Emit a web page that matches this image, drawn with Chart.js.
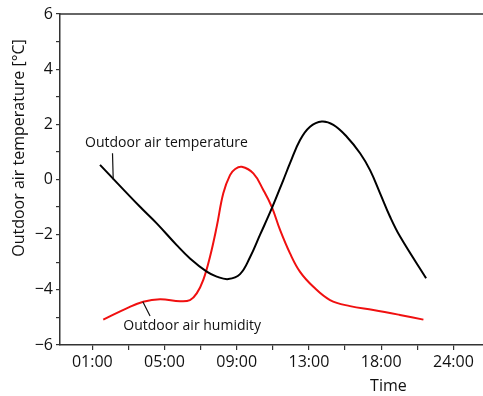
<!DOCTYPE html>
<html><head><meta charset="utf-8">
<script src="https://cdn.jsdelivr.net/npm/chart.js@4/dist/chart.umd.min.js"></script>
<style>html,body{margin:0;padding:0;background:#fff}#wrap{width:483px;height:396px}</style>
</head><body><div id="wrap"><canvas id="c" width="483" height="396"></canvas></div>
<script>
// x positions are in tick-label units: 0 = "01:00", 1 = "05:00", ... 5 = "24:00"
const tickLabels = ['01:00','05:00','09:00','13:00','18:00','24:00'];
const tempX = [0.107, 0.661, 0.892, 1.169, 1.353, 1.585, 1.723, 1.884, 2.046, 2.184, 2.322, 2.485, 2.645, 2.738, 2.877, 3.015, 3.177, 3.338, 3.524, 3.708, 3.846, 3.985, 4.123, 4.262, 4.622];
const tempY = [0.53, -0.99, -1.59, -2.38, -2.86, -3.34, -3.52, -3.61, -3.43, -2.82, -2.01, -1.05, -0.02, 0.59, 1.43, 1.91, 2.10, 1.98, 1.55, 0.95, 0.34, -0.50, -1.35, -2.07, -3.58];
const humX = [0.152, 0.476, 0.706, 0.938, 1.215, 1.353, 1.446, 1.537, 1.630, 1.723, 1.814, 1.907, 1.979, 2.069, 2.230, 2.368, 2.485, 2.600, 2.738, 2.877, 3.061, 3.292, 3.569, 3.892, 4.260, 4.585];
const humY = [-5.08, -4.67, -4.43, -4.34, -4.41, -4.37, -4.13, -3.64, -2.80, -1.71, -0.50, 0.16, 0.38, 0.46, 0.22, -0.38, -0.99, -1.83, -2.68, -3.35, -3.89, -4.37, -4.59, -4.73, -4.91, -5.08];
const yTitle = 'Outdoor air temperature [°C]';
const xTitle = 'Time';
const tempName = 'Outdoor air temperature';
const humName = 'Outdoor air humidity';

const FONT = '"Open Sans", "DejaVu Sans", sans-serif';
const AX = '#333';

const toPts = (xs, ys) => xs.map((x, i) => ({x, y: ys[i]}));

const annot = {
  id: 'annot',
  afterDraw(chart) {
    const {ctx, chartArea: a, scales: {x, y}} = chart;
    ctx.save();
    ctx.strokeStyle = AX; ctx.lineWidth = 1.5;
    ctx.beginPath(); ctx.moveTo(a.left, a.top); ctx.lineTo(a.right, a.top); ctx.stroke();
    ctx.fillStyle = '#111';
    ctx.font = '16px ' + FONT;
    ctx.textAlign = 'center'; ctx.textBaseline = 'middle';
    ctx.save();
    ctx.translate(19, 148); ctx.rotate(-Math.PI / 2);
    ctx.fillText(yTitle, 0, 0);
    ctx.restore();
    ctx.fillText(xTitle, x.getPixelForValue(4.1), 386);
    ctx.font = '14px ' + FONT;
    ctx.textAlign = 'left'; ctx.textBaseline = 'alphabetic';
    ctx.fillText(tempName, x.getPixelForValue(-0.10), y.getPixelForValue(1.37) + 5);
    ctx.fillText(humName, x.getPixelForValue(0.43), y.getPixelForValue(-4.4) + 29);
    ctx.strokeStyle = '#111'; ctx.lineWidth = 1.2;
    ctx.beginPath();
    ctx.moveTo(x.getPixelForValue(0.28), y.getPixelForValue(0.95));
    ctx.lineTo(x.getPixelForValue(0.29), y.getPixelForValue(0.0));
    ctx.moveTo(x.getPixelForValue(0.70), y.getPixelForValue(-4.43));
    ctx.lineTo(x.getPixelForValue(0.80), y.getPixelForValue(-4.95));
    ctx.stroke();
    ctx.restore();
  }
};

new Chart(document.getElementById('c'), {
  type: 'line',
  data: {
    datasets: [
      {label: tempName, data: toPts(tempX, tempY), borderColor: '#000', borderWidth: 2,
       pointRadius: 0, tension: 0.4, fill: false},
      {label: humName, data: toPts(humX, humY), borderColor: '#f01010', borderWidth: 2,
       pointRadius: 0, tension: 0.4, fill: false}
    ]
  },
  options: {
    responsive: false, animation: false, events: [],
    layout: {padding: {top: 14, right: 0, bottom: 0, left: 0}},
    plugins: {legend: {display: false}, tooltip: {enabled: false}},
    scales: {
      x: {
        type: 'linear', min: -0.447, max: 5.41,
        afterBuildTicks: s => { s.ticks = []; for (let v = 0; v <= 5; v += 0.5) s.ticks.push({value: v}); },
        afterFit: s => { s.height = 51; },
        ticks: {
          autoSkip: false, maxRotation: 0, padding: 3, color: '#111',
          font: {family: FONT, size: 16},
          callback: v => Number.isInteger(v) ? tickLabels[v] : ''
        },
        grid: {drawOnChartArea: false, drawTicks: true, tickLength: 5, color: AX, lineWidth: 1.2},
        border: {display: true, color: AX, width: 1.5}
      },
      y: {
        min: -6, max: 6,
        afterBuildTicks: s => { s.ticks = []; for (let v = -6; v <= 6; v += 1) s.ticks.push({value: v}); },
        afterFit: s => { s.width = 60; },
        ticks: {
          autoSkip: false, padding: 3, color: '#111',
          font: {family: FONT, size: 16},
          callback: v => (v % 2 === 0) ? String(v).replace('-', '\u2212') : ''
        },
        grid: {drawOnChartArea: false, drawTicks: true, tickLength: 4, color: AX, lineWidth: 1.2},
        border: {display: true, color: AX, width: 1.5}
      }
    }
  },
  plugins: [annot]
});
</script>
</body></html>
